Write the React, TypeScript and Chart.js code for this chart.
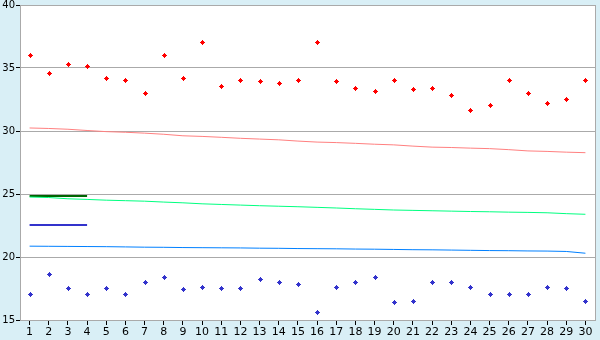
import React, { useEffect, useRef } from "react";
import { Chart, registerables } from "chart.js";
Chart.register(...registerables);

const categories = ["1","2","3","4","5","6","7","8","9","10","11","12","13","14","15","16","17","18","19","20","21","22","23","24","25","26","27","28","29","30"];
const redPoints = [36.0,34.58,35.29,35.13,34.18,34.02,32.99,36.0,34.18,37.04,33.54,34.02,33.94,33.78,34.02,37.04,33.94,33.38,33.15,34.02,33.31,33.38,32.83,31.64,32.04,34.02,32.99,32.2,32.51,34.02];
const bluePoints = [17.04,18.62,17.51,17.04,17.51,17.04,17.99,18.39,17.44,17.59,17.51,17.51,18.23,17.99,17.83,15.61,17.59,17.99,18.39,16.4,16.48,17.99,17.99,17.59,17.04,17.04,17.04,17.59,17.51,16.48];
const redTrend = [30.24,30.20,30.14,30.04,29.95,29.90,29.83,29.74,29.62,29.57,29.50,29.42,29.36,29.30,29.20,29.12,29.08,29.02,28.95,28.90,28.80,28.72,28.69,28.64,28.60,28.52,28.42,28.38,28.32,28.28];
const greenTrend = [24.76,24.72,24.62,24.57,24.51,24.47,24.43,24.36,24.30,24.22,24.17,24.12,24.07,24.03,23.99,23.94,23.89,23.83,23.78,23.73,23.70,23.67,23.64,23.61,23.59,23.56,23.54,23.51,23.44,23.39];
const blueTrend = [20.86,20.85,20.84,20.83,20.82,20.80,20.78,20.77,20.75,20.74,20.73,20.72,20.70,20.69,20.67,20.66,20.65,20.63,20.62,20.60,20.58,20.57,20.55,20.53,20.51,20.50,20.48,20.47,20.44,20.30];
const darkGreenLevel = [24.85,24.85,24.85,24.85];
const darkBlueLevel = [22.54,22.54,22.54,22.54];
const yMin = 15;
const yMax = 40;
const yStep = 5;

const bgPlugin = {
  id: "bgPlugin",
  beforeDraw(chart: any) {
    const { ctx, chartArea, width, height } = chart;
    ctx.save();
    ctx.fillStyle = "#d9eff6";
    ctx.fillRect(0, 0, width, height);
    ctx.fillStyle = "#ffffff";
    ctx.fillRect(chartArea.left, chartArea.top, chartArea.right - chartArea.left, chartArea.bottom - chartArea.top);
    ctx.restore();
  },
  beforeDatasetsDraw(chart: any) {
    const { ctx, chartArea } = chart;
    ctx.save();
    ctx.strokeStyle = "#aaaaaa";
    ctx.lineWidth = 1;
    ctx.beginPath();
    ctx.moveTo(chartArea.right + 0.5, chartArea.top);
    ctx.lineTo(chartArea.right + 0.5, chartArea.bottom);
    ctx.stroke();
    ctx.restore();
  },
  afterDatasetsDraw(chart: any) {
    const { ctx } = chart;
    ctx.save();
    chart.data.datasets.forEach((ds: any, i: number) => {
      if (!ds.markerColor) return;
      const meta = chart.getDatasetMeta(i);
      ctx.fillStyle = ds.markerColor;
      meta.data.forEach((el: any) => {
        const x = Math.round(el.x) - 2;
        const y = Math.round(el.y) - 2;
        ctx.fillRect(x + 1, y + 1, 3, 3);
        ctx.fillRect(x + 2, y, 1, 5);
        ctx.fillRect(x, y + 2, 5, 1);
      });
    });
    ctx.restore();
  },
};

export default function App() {
  const ref = useRef<HTMLCanvasElement>(null);
  useEffect(() => {
    document.body.style.margin = "0";
    const lineDs = (data: number[], color: string, width: number) => ({
      data,
      borderColor: color,
      backgroundColor: color,
      borderWidth: width,
      pointRadius: 0,
      fill: false,
      tension: 0,
    });
    const chart = new Chart(ref.current!, {
      type: "line",
      data: {
        labels: categories,
        datasets: [
          lineDs(redTrend, "#ff8080", 1),
          lineDs(greenTrend, "#00ff80", 1),
          lineDs(blueTrend, "#0080ff", 1),
          lineDs(darkGreenLevel, "#006400", 2),
          lineDs(darkBlueLevel, "#3333cc", 2),
          {
            data: redPoints,
            showLine: false,
            pointRadius: 0,
            markerColor: "#ff0000",
            borderColor: "#ff0000",
            backgroundColor: "#ff0000",
          },
          {
            data: bluePoints,
            showLine: false,
            pointRadius: 0,
            markerColor: "#3333cc",
            borderColor: "#3333cc",
            backgroundColor: "#3333cc",
          },
        ] as any,
      },
      options: {
        animation: false,
        responsive: false,
        devicePixelRatio: 1,
        layout: { padding: { left: 0, top: 5, right: 5, bottom: 0 } },
        plugins: { legend: { display: false }, tooltip: { enabled: false } },
        scales: {
          x: {
            offset: true,
            grid: { drawOnChartArea: false, tickLength: 5, tickColor: "#000000", offset: false },
            border: { color: "#aaaaaa" },
            ticks: {
              color: "#000000",
              font: { family: "DejaVu Sans", size: 11, lineHeight: 1 },
              padding: 2,
              maxRotation: 0,
              autoSkip: false,
            },
            afterFit(scale: any) {
              scale.height = 20;
              scale.paddingLeft = 0;
              scale.paddingRight = 0;
            },
          },
          y: {
            min: yMin,
            max: yMax,
            grid: { color: "#aaaaaa", tickLength: 4, tickColor: "#000000" },
            border: { color: "#aaaaaa" },
            ticks: {
              stepSize: yStep,
              color: "#000000",
              font: { family: "DejaVu Sans", size: 10, lineHeight: 1 },
              padding: 1,
            },
            afterFit(scale: any) {
              scale.width = 20;
              scale.paddingTop = 0;
              scale.paddingBottom = 0;
            },
          },
        },
      },
      plugins: [bgPlugin],
    });
    return () => chart.destroy();
  }, []);
  return <canvas ref={ref} width={600} height={340} style={{ display: "block" }} />;
}
